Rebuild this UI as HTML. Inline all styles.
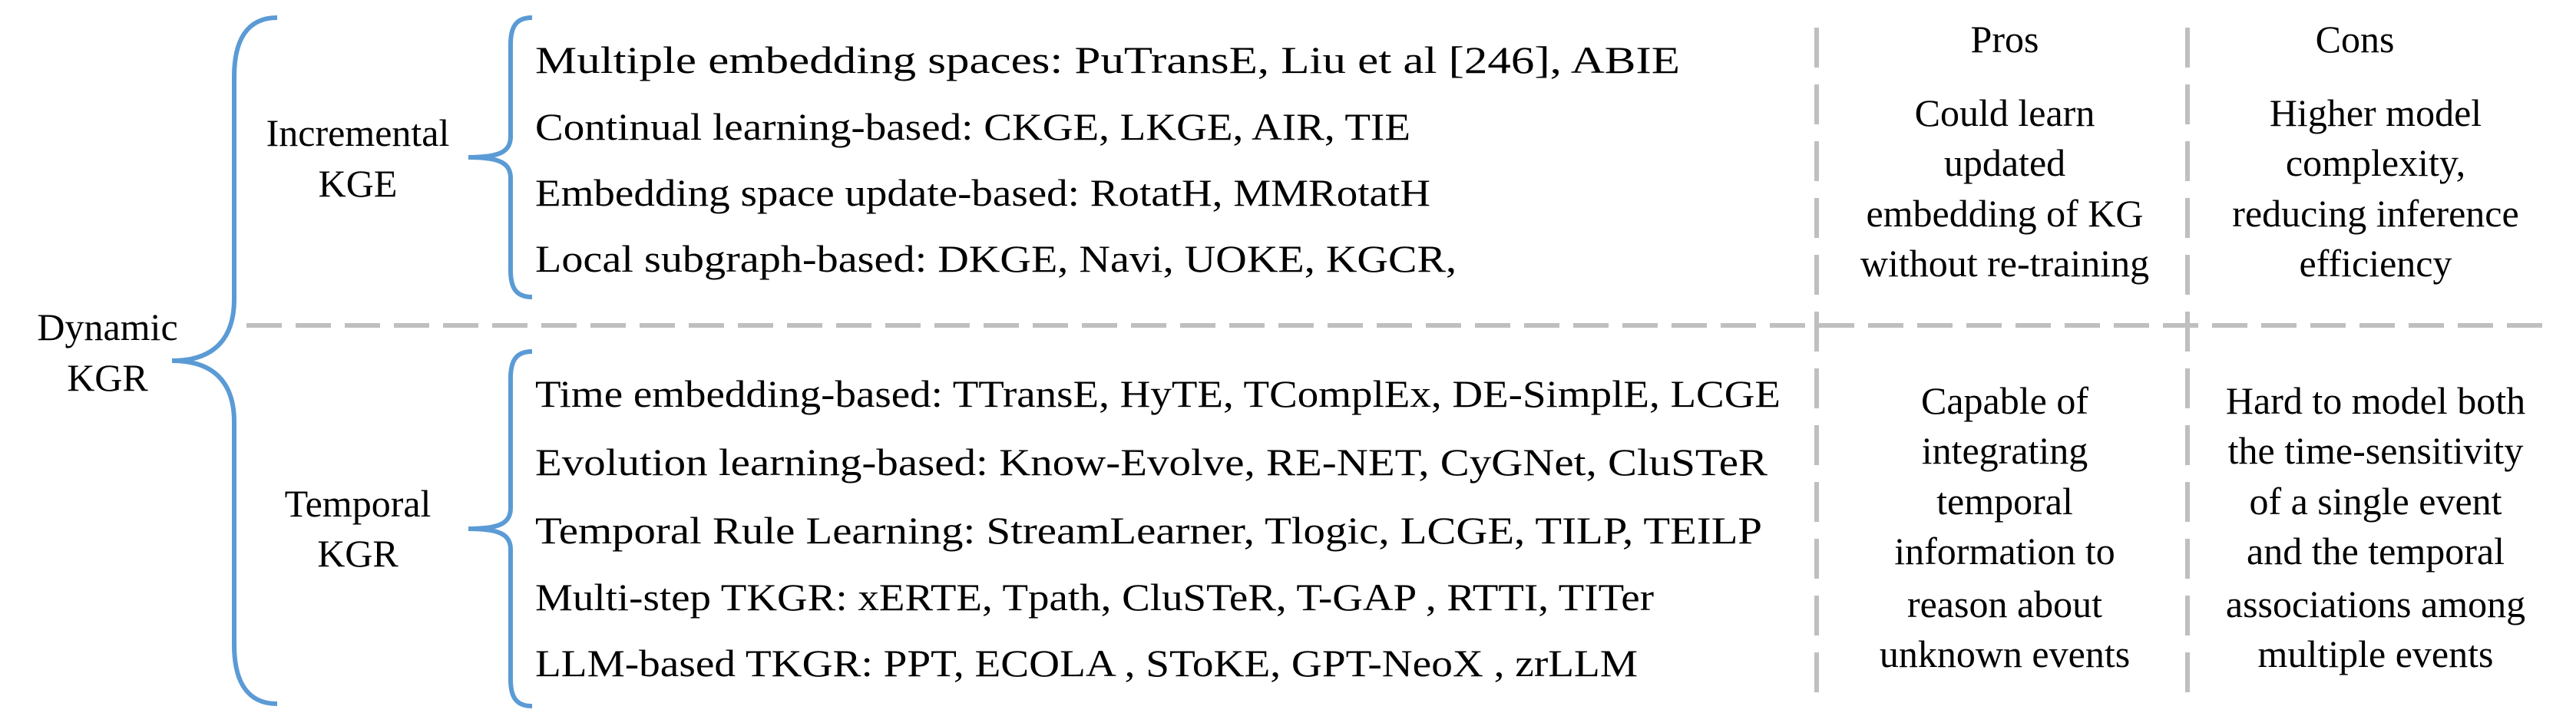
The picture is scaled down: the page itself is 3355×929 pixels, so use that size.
<!DOCTYPE html>
<html><head><meta charset="utf-8"><style>
html,body{margin:0;padding:0;background:#fff;}
svg{display:block;}
.t{font-family:"Liberation Serif","Times New Roman",Times,serif;font-size:50px;fill:#000;}
</style></head><body>
<svg width="3355" height="929" viewBox="0 0 3355 929">
<g fill="none" stroke="#5b9bd5" stroke-width="6">
<path d="M361 23 C320 23 305 55 305 100 L305 390 C305 440 280 470 224 470 C280 470 305 500 305 550 L305 840 C305 885 320 917 361 917"/>
<path d="M693 23 C672 23 665 35 665 58 L665 178 C665 198 650 205 610 205 C650 205 665 212 665 232 L665 352 C665 375 672 387 693 387"/>
<path d="M693 458 C672 458 665 470 665 493 L665 662 C665 682 650 689 610 689 C650 689 665 696 665 716 L665 885 C665 908 672 920 693 920"/>
</g>
<g stroke="#bfbfbf" stroke-width="6" fill="none">
<line x1="321" y1="424" x2="3328" y2="424" stroke-dasharray="46 18"/>
<line x1="2366" y1="36" x2="2366" y2="905" stroke-dasharray="52 22"/>
<line x1="2849" y1="36" x2="2849" y2="905" stroke-dasharray="52 22"/>
</g>
<g class="t" text-anchor="middle" style="font-family:'Liberation Serif',serif">
<text x="140" y="443">Dynamic</text><text x="140" y="509">KGR</text>
<text x="466" y="190">Incremental</text><text x="466" y="256">KGE</text>
<text x="466" y="673">Temporal</text><text x="466" y="738">KGR</text>
<text x="2611" y="68">Pros</text>
<text x="3067" y="68">Cons</text>
<text x="2611" y="164">Could learn</text>
<text x="2611" y="229">updated</text>
<text x="2611" y="295">embedding of KG</text>
<text x="2611" y="360">without re-training</text>
<text x="3094" y="164">Higher model</text>
<text x="3094" y="229">complexity,</text>
<text x="3094" y="295">reducing inference</text>
<text x="3094" y="360">efficiency</text>
<text x="2611" y="539">Capable of</text>
<text x="2611" y="604">integrating</text>
<text x="2611" y="670">temporal</text>
<text x="2611" y="735">information to</text>
<text x="2611" y="804">reason about</text>
<text x="2611" y="869">unknown events</text>
<text x="3094" y="539">Hard to model both</text>
<text x="3094" y="604">the time-sensitivity</text>
<text x="3094" y="670">of a single event</text>
<text x="3094" y="735">and the temporal</text>
<text x="3094" y="804">associations among</text>
<text x="3094" y="869">multiple events</text>
</g>
<g class="t" style="font-family:'Liberation Serif',serif">
<text x="697" y="95" textLength="1491" lengthAdjust="spacingAndGlyphs">Multiple embedding spaces: PuTransE, Liu et al [246], ABIE</text>
<text x="697" y="182" textLength="1140" lengthAdjust="spacingAndGlyphs">Continual learning-based: CKGE, LKGE, AIR, TIE</text>
<text x="697" y="268" textLength="1166" lengthAdjust="spacingAndGlyphs">Embedding space update-based: RotatH, MMRotatH</text>
<text x="697" y="354" textLength="1200" lengthAdjust="spacingAndGlyphs">Local subgraph-based: DKGE, Navi, UOKE, KGCR,</text>
<text x="697" y="530" textLength="1622" lengthAdjust="spacingAndGlyphs">Time embedding-based: TTransE, HyTE, TComplEx, DE-SimplE, LCGE</text>
<text x="697" y="619" textLength="1605" lengthAdjust="spacingAndGlyphs">Evolution learning-based: Know-Evolve, RE-NET, CyGNet, CluSTeR</text>
<text x="697" y="708" textLength="1598" lengthAdjust="spacingAndGlyphs">Temporal Rule Learning: StreamLearner, Tlogic, LCGE, TILP, TEILP</text>
<text x="697" y="795" textLength="1457" lengthAdjust="spacingAndGlyphs">Multi-step TKGR: xERTE, Tpath, CluSTeR, T-GAP , RTTI, TITer</text>
<text x="697" y="881" textLength="1436" lengthAdjust="spacingAndGlyphs">LLM-based TKGR: PPT, ECOLA , SToKE, GPT-NeoX , zrLLM</text>
</g>
</svg>
</body></html>
